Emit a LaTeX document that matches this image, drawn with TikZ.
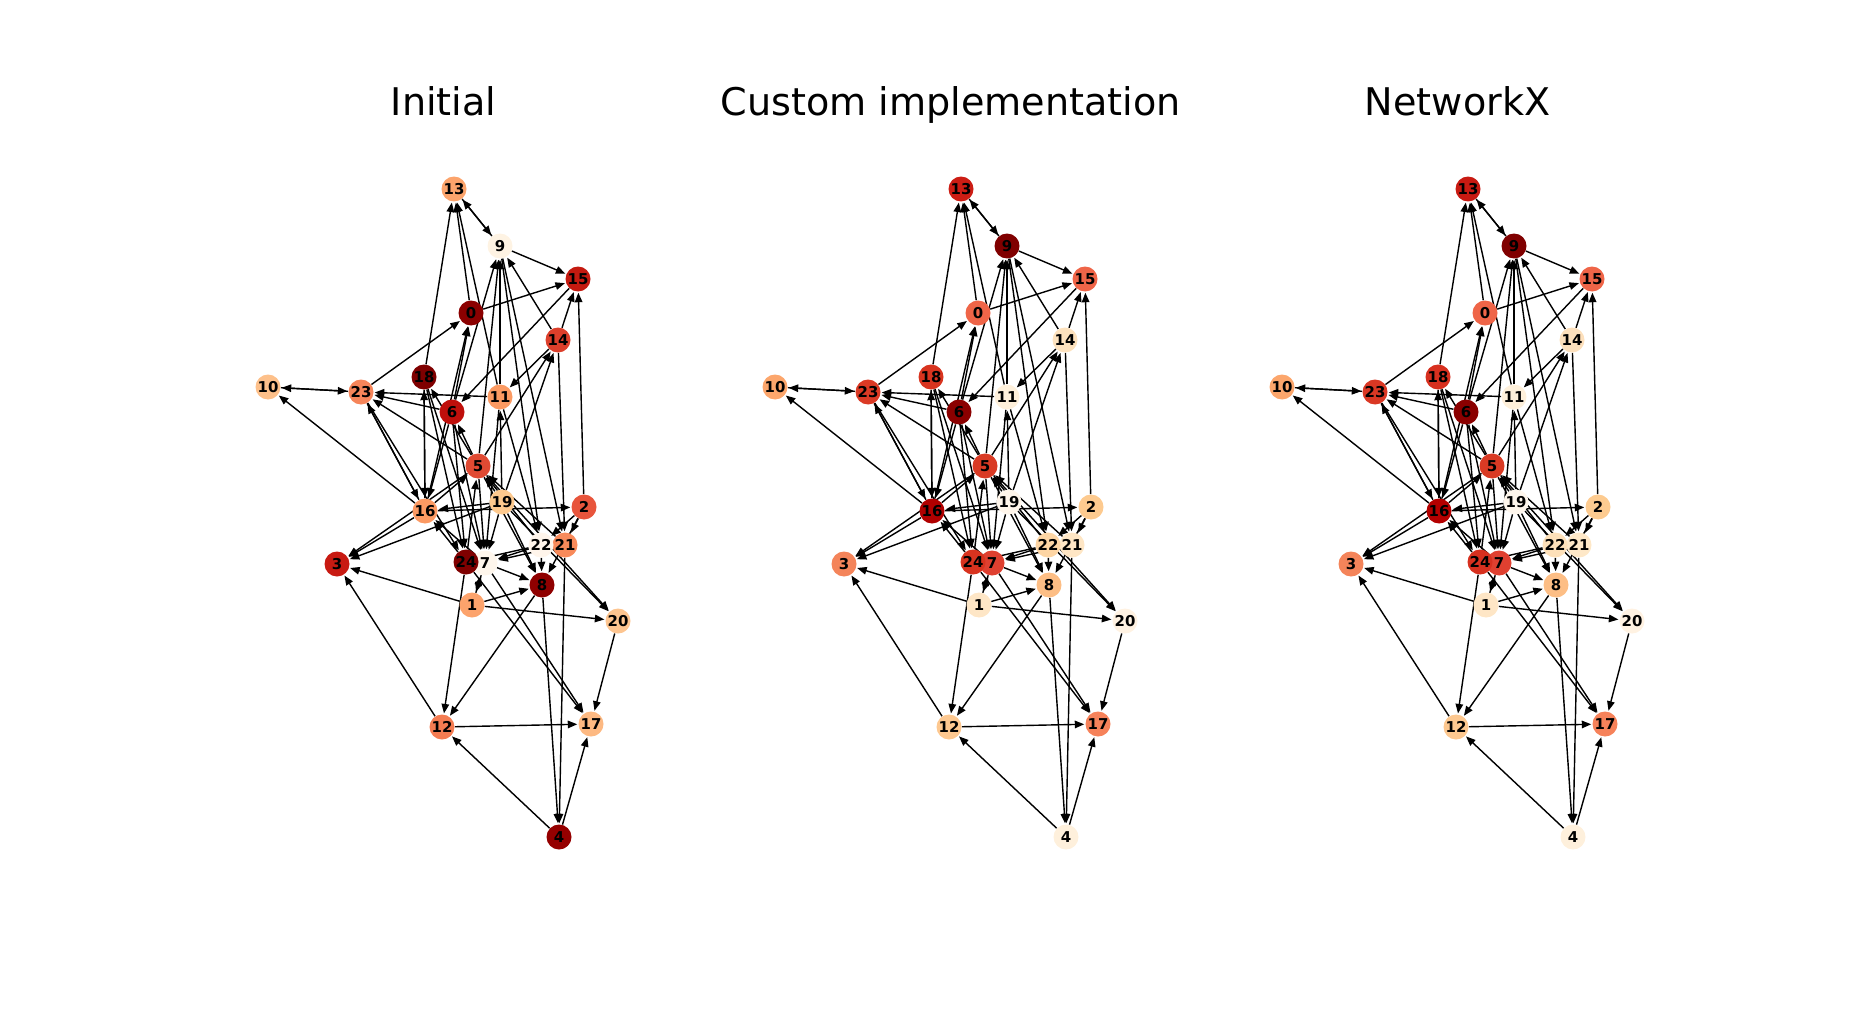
\documentclass[tikz,border=0pt]{standalone}
\usepackage{fontspec}
\setmainfont{DejaVu Sans}
\usetikzlibrary{arrows.meta,backgrounds}
\tikzset{
 vtx/.style={circle,inner sep=0pt,minimum size=0.5cm,draw=none},
 lbl/.style={font=\fontsize{8.5}{10}\selectfont\bfseries,inner sep=0pt,text=black},
 edge/.style={-{Triangle[length=0.19cm,width=0.15cm]},line width=0.8pt,black,shorten >=0.5pt},
 ttl/.style={font=\fontsize{21.7}{26}\selectfont,inner sep=0pt,anchor=base}
}
\begin{document}
\begin{tikzpicture}[x=0.02cm,y=-0.02cm]
\useasboundingbox (0,0) rectangle (1855,1017);
\foreach \p/\dx/\t in {a/0/Initial, b/507/Custom implementation, c/1014/NetworkX} {
  \node[ttl] (t\p) at (443.6+\dx,115.5) {\t};
}
\foreach \n/\x/\y/\ca/\cb/\cc in {
 0/471/313/8B0000/EF6548/EF6548,
 1/472/605/FCA36C/FEE6C6/FEE6C6,
 2/584/507/E8553C/FDCA8F/FDCB90,
 3/337/564/C81A12/F4845A/F4845A,
 4/559/837/950000/FEF0DC/FEF0DC,
 5/478/466/E04A33/D93A24/D93A24,
 6/452/412/BF0F0B/8B0000/8B0000,
 7/485/563/FEF6EC/DF4030/DF4030,
 8/542/585/8F0000/FDBE85/FDBE85,
 9/500/246/FEF3E3/800000/800000,
 10/268/387/FDC08A/FCA66C/FCA66C,
 11/500/397/FB9A62/FEF0DB/FEF0DB,
 12/442/727/F47C52/FDC890/FDC890,
 13/454/189/FCA46C/CC1D14/C81A12,
 14/558/340/DC3F2B/FDE2BE/FDE0BC,
 15/578/279/C41A10/EF6548/EF6548,
 16/425/511/FC9A63/B00000/B40000,
 17/591/724/FDB982/F6825A/F6825A,
 18/424/377/7F0000/D8341F/D7301F,
 19/502/502/FDC98E/FEF5EA/FEF6EC,
 20/618/621/FDC590/FFF2E2/FFF2E2,
 21/565/545/F88A5A/FEE6C5/FEE8C8,
 22/541/545/FFF5EB/FDD5A4/FDE0B9,
 23/361/392/F6855A/DB3A25/DA3824,
 24/466/562/7F0000/D8331F/D7301F} {
  \definecolor{cola}{HTML}{\ca}
  \definecolor{colb}{HTML}{\cb}
  \definecolor{colc}{HTML}{\cc}
  \node[vtx,fill=cola] (a\n) at (\x,\y) {};
  \node[vtx,fill=colb] (b\n) at (\x+507,\y) {};
  \node[vtx,fill=colc] (c\n) at (\x+1014,\y) {};
}
\foreach \n in {0,...,24} {
  \node[lbl] at (a\n) {\n};
  \node[lbl] at (b\n) {\n};
  \node[lbl] at (c\n) {\n};
}
\begin{scope}[on background layer]
\foreach \s/\t in {
 9/13, 13/9, 18/13, 0/13, 11/13,
 9/15, 0/15, 14/15, 2/15,
 15/6, 14/9, 23/0, 6/0, 16/0, 6/9, 5/9, 11/9, 9/22, 9/21,
 14/11, 5/14, 19/14, 14/21,
 10/23, 23/10, 16/10, 11/23, 6/23, 5/23, 23/16, 16/23, 23/24,
 18/16, 16/18, 6/16, 16/5, 5/6, 18/24, 5/18, 18/7, 6/24, 6/7,
 16/3, 5/3, 19/3, 1/3, 12/3,
 19/16, 16/2, 19/11, 11/7, 11/22,
 19/5, 22/5, 21/5, 24/5, 5/7,
 2/22, 2/21, 2/8, 22/7, 21/7, 22/24,
 7/8, 1/8, 1/20, 7/1, 1/7,
 19/8, 5/8, 22/8, 8/12, 8/4, 21/4,
 5/20, 19/20, 24/12, 24/17, 7/17, 20/17, 12/17, 4/12, 4/17,
 24/16, 7/16, 19/7} {
  \draw[edge] (a\s) -- (a\t);
  \draw[edge] (b\s) -- (b\t);
  \draw[edge] (c\s) -- (c\t);
}
\end{scope}
\end{tikzpicture}
\end{document}
